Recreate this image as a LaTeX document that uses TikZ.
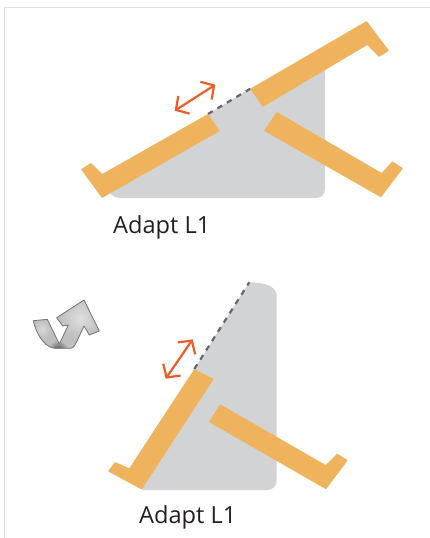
\documentclass[tikz,border=0pt]{standalone}
\usepackage{fontspec}
\setmainfont{Open Sans}
\usetikzlibrary{arrows.meta}
\definecolor{tabletorange}{HTML}{F0B35D}
\definecolor{standgray}{HTML}{D1D3D4}
\definecolor{adaptred}{HTML}{F15A29}
\definecolor{dashgray}{HTML}{666769}
\definecolor{framegray}{HTML}{DCDDDE}
\definecolor{labelblack}{HTML}{231F20}
\tikzset{
  x=1pt,y=-1pt,
  tablet/.style={fill=tabletorange,draw=none,rounded corners=0.6pt},
  stand/.style={fill=standgray,draw=none},
  hinge/.style={draw=dashgray,line width=2.2pt,dash pattern=on 5.5pt off 5.5pt},
  adapt/.style={draw=adaptred,line width=2.2pt,{Straight Barb[length=9.5pt,width=21pt]}-{Straight Barb[length=9.5pt,width=21pt]}},
  caption/.style={anchor=base west,inner sep=0pt,font=\fontsize{23.6}{28}\selectfont,text=labelblack},
  frameline/.style={draw=framegray,line width=1pt},
  twistline/.style={draw=gray!90!black,line width=0.8pt,line join=round}
}
\begin{document}
\begin{tikzpicture}
\useasboundingbox (0,0) rectangle (430,538);
\fill[white] (0,0) rectangle (430,538);
% frame
\coordinate (fa) at (430,7); \coordinate (fb) at (4.5,7); \coordinate (fc) at (4.5,538);
\draw[frameline] (fa) -- (fb) -- (fc);
% upper stand
\coordinate (h1a) at (208,114); \coordinate (h1b) at (250.3,88.7);
\draw[stand] (h1a) -- (h1b) -- (325,68) -- (325,189)
  .. controls (325,195) and (321,198) .. (315,198) -- (120,198)
  .. controls (116,198) and (113,196) .. (110,193) -- cycle;
\draw[hinge] (h1a) -- (h1b);
\draw[tablet] (366.7,21) -- (389,50.7) -- (379,57) -- (367.3,45) -- (262.7,107) -- (h1b) -- cycle;
\draw[tablet] (h1a) -- (219.7,131) -- (102,198) -- (81,169.3) -- (91,163) -- (102.3,174) -- cycle;
\draw[tablet] (276.7,112) -- (264,130.7) -- (381,197.3) -- (403,168.3) -- (392.3,161.3) -- (381.7,173) -- cycle;
\coordinate (r1a) at (174.7,110.7); \coordinate (r1b) at (215.3,84.7);
\draw[adapt] (r1a) -- (r1b);
\node[caption] (cap1) at (113,233.5) {Adapt L1};
% lower stand
\coordinate (h2a) at (194.3,369); \coordinate (h2b) at (249.3,282.3);
\draw[stand] (h2a) -- (h2b) .. controls (262,282.3) and (276.7,285) .. (276.7,296)
  -- (276.7,480) .. controls (276.7,486) and (273,490) .. (267,490) -- (141.7,490) -- cycle;
\draw[hinge] (h2a) -- (h2b);
\draw[tablet] (h2a) -- (213.7,379) -- (141.7,489.5) -- (108,471.3) -- (115,462) -- (129.3,468.3) -- cycle;
\draw[tablet] (220,404.3) -- (209,422) -- (326,489.3) -- (347.7,460.3) -- (337.3,453.7) -- (325.7,465) -- cycle;
\coordinate (r2a) at (165.7,378.7); \coordinate (r2b) at (192.7,339.3);
\draw[adapt] (r2a) -- (r2b);
\node[caption] (cap2) at (139,523.3) {Adapt L1};
% twist arrow
\def\twistpath{(33.3,320.7) -- (47.3,319.3) -- (59.3,344) -- (68.3,325) -- (62.7,326) -- (56.7,317.7) -- (84,300) -- (99.3,331) -- (89.3,335) -- (84,326) -- (78.3,338.3) .. controls (75,345) and (74,348.3) .. (70,348.3) -- (55,348.3) .. controls (48,348) and (38,340) .. cycle}
\begin{scope}
  \clip \twistpath;
  \fill[gray!50] (25,295) rectangle (105,355);
  \shade[inner color=gray!25,outer color=gray!50] (80,318) circle[radius=20];
  \shade[inner color=black!70,outer color=gray!50] (58,350) circle[radius=10];
  \shade[inner color=gray!30,outer color=gray!50] (42,329) circle[radius=9];
\end{scope}
\draw[twistline] \twistpath;
\end{tikzpicture}
\end{document}
